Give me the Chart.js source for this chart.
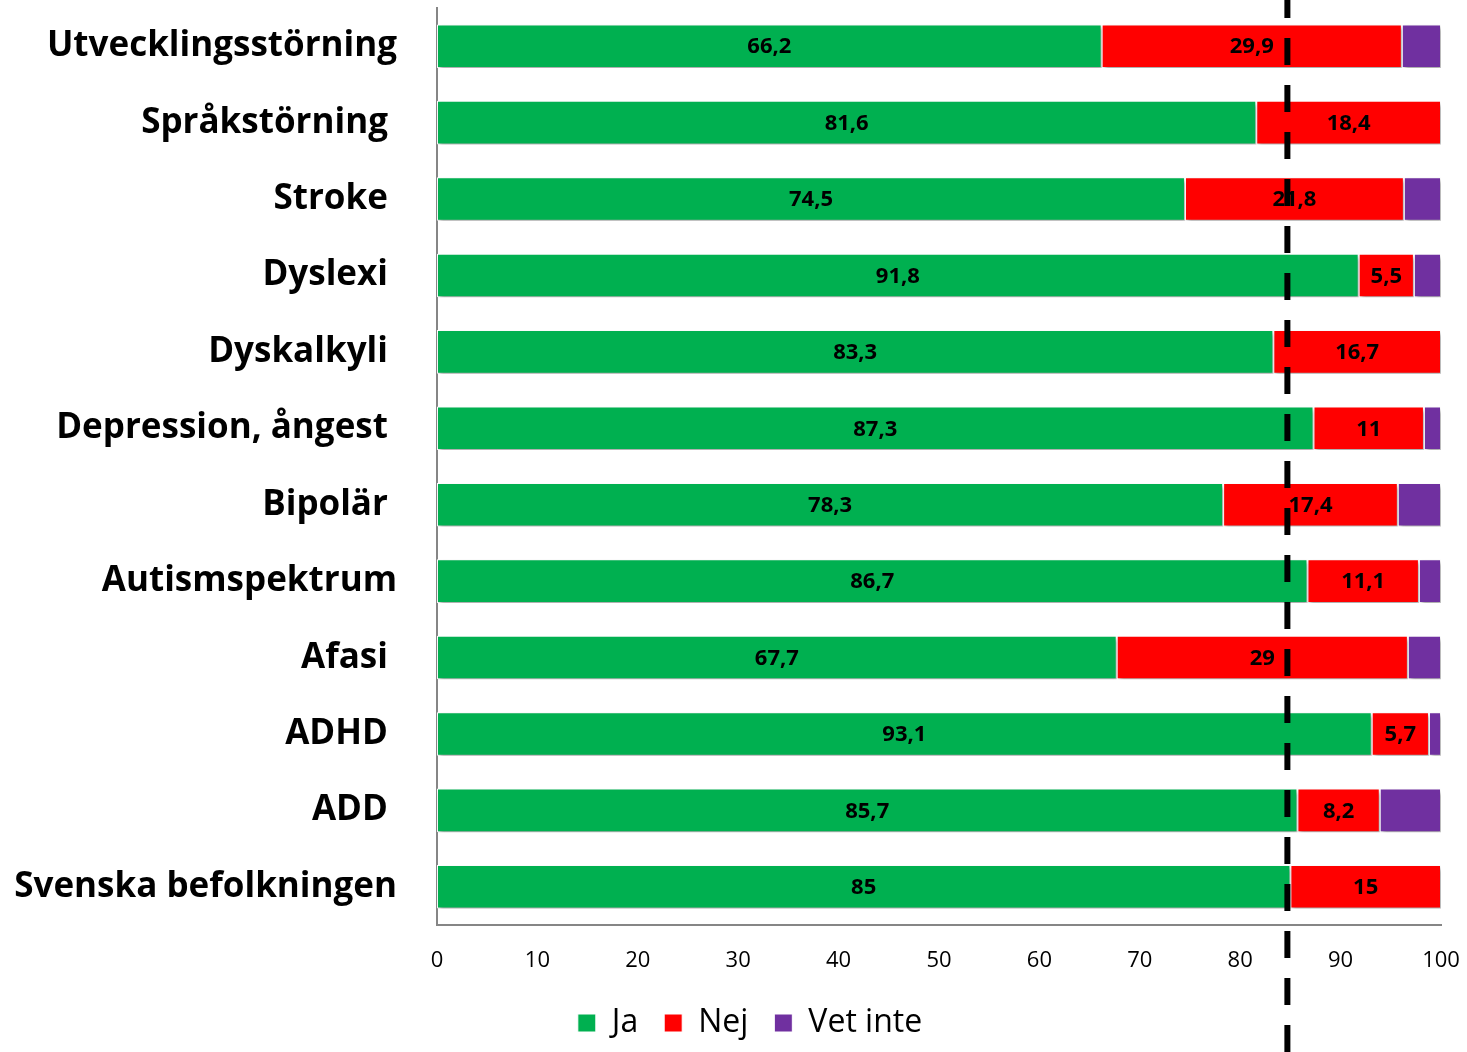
<!DOCTYPE html>
<html><head><meta charset="utf-8">
<script src="https://cdn.jsdelivr.net/npm/chart.js@4/dist/chart.umd.min.js"></script>
<style>html,body{margin:0;padding:0;background:#fff}#wrap{width:1467px;height:1052px;position:relative}</style>
</head><body><div id="wrap"><canvas id="c"></canvas></div>
<script>
const categories = ['Utvecklingsstörning','Språkstörning ','Stroke ','Dyslexi ','Dyskalkyli ','Depression, ångest ','Bipolär ','Autismspektrum','Afasi ','ADHD ','ADD ','Svenska befolkningen'];
const seriesNames = ['Ja','Nej','Vet inte'];
const ja = [66.2,81.6,74.5,91.8,83.3,87.3,78.3,86.7,67.7,93.1,85.7,85];
const nej = [29.9,18.4,21.8,5.5,16.7,11,17.4,11.1,29,5.7,8.2,15];
const vetInte = [3.9,0,3.7,2.7,0,1.7,4.3,2.2,3.3,1.2,6.1,0];
const xTicks = [0,10,20,30,40,50,60,70,80,90,100];
const referenceValue = 84.7;

const FONT = '"Open Sans"';
const colors = ['#00B050','#FF0000','#7030A0'];

const shadowAndLabels = {
  id:'shadowAndLabels',
  afterLayout(chart){ chart.scales.y.left = 0; },
  beforeDatasetsDraw(chart){
    const ctx = chart.ctx; ctx.save();
    ctx.shadowColor='rgba(0,0,0,0.35)'; ctx.shadowBlur=4; ctx.shadowOffsetX=2; ctx.shadowOffsetY=3;
  },
  afterDatasetsDraw(chart){
    const ctx = chart.ctx; ctx.restore();
    ctx.save();
    ctx.font = 'bold 22px ' + FONT;
    ctx.fillStyle = '#000'; ctx.textAlign='center'; ctx.textBaseline='middle';
    [0,1].forEach(di=>{
      const meta = chart.getDatasetMeta(di);
      meta.data.forEach((el,i)=>{
        const v = chart.data.datasets[di].data[i];
        if(!v) return;
        const p = el.getProps(['x','y','base'], true);
        ctx.fillText(String(v).replace('.',','), (p.x+p.base)/2, p.y+1);
      });
    });
    ctx.restore();
  }
};
const refLine = {
  id:'refLine',
  afterDraw(chart){
    const ctx = chart.ctx; const x = chart.scales.x.getPixelForValue(referenceValue);
    ctx.save(); ctx.strokeStyle='#000'; ctx.lineWidth=6; ctx.setLineDash([27,20]); ctx.lineDashOffset=9;
    ctx.beginPath(); ctx.moveTo(x,0); ctx.lineTo(x,chart.height); ctx.stroke(); ctx.restore();
  }
};

new Chart(document.getElementById('c'), {
  type:'bar',
  data:{
    labels: categories,
    datasets:[ja,nej,vetInte].map((d,i)=>({label:seriesNames[i], data:d, backgroundColor:colors[i], borderColor:'#ffffff', borderWidth:1, borderSkipped:false, barPercentage:0.57, categoryPercentage:1}))
  },
  options:{
    indexAxis:'y', responsive:true, maintainAspectRatio:false, animation:false,
    layout:{padding:{top:8,right:26,left:59,bottom:3}},
    plugins:{
      tooltip:{enabled:false},
      legend:{position:'bottom', labels:{font:{family:'Open Sans',size:32}, color:'#000', boxWidth:18, boxHeight:18, padding:26}}
    },
    scales:{
      x:{stacked:true, min:0, max:100, grid:{display:false, drawTicks:false}, border:{display:true,color:'#868686',width:2},
         afterBuildTicks(s){ s.ticks = xTicks.map(v=>({value:v})); },
         ticks:{font:{family:'Open Sans',size:22}, color:'#000', padding:23, maxRotation:0, autoSkip:false},
         afterFit(s){ s.height = 56; s.paddingLeft = 0; s.paddingRight = 0; }},
      y:{stacked:true, grid:{display:false, drawTicks:false}, border:{display:true,color:'#868686',width:2},
         ticks:{font:{family:'Open Sans',size:35,weight:'bold'}, color:'#000', padding:40, autoSkip:false},
         afterFit(s){ s.width = 378; s.paddingTop = 0; s.paddingBottom = 0; }}
    }
  },
  plugins:[shadowAndLabels, refLine]
});
</script></body></html>
